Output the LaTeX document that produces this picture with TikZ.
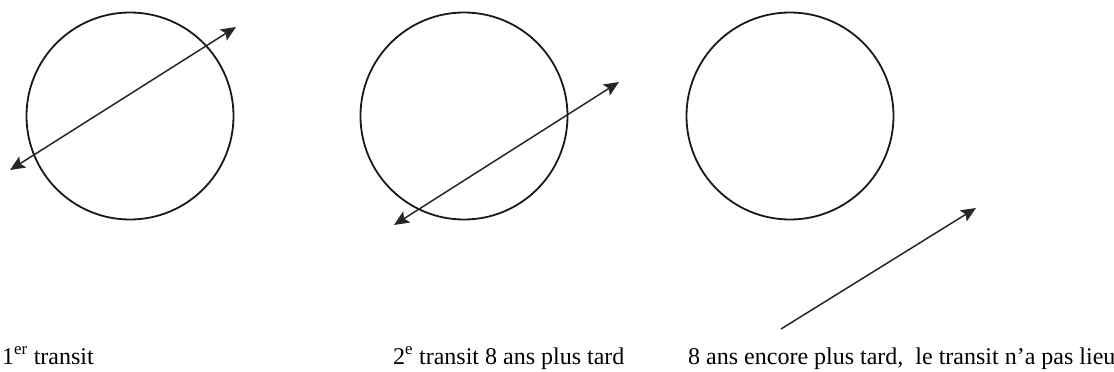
\documentclass[tikz,border=0pt]{standalone}
\usepackage{fontspec}
\setmainfont{Liberation Serif}
\usetikzlibrary{arrows.meta}
\begin{document}
\begin{tikzpicture}[x=1pt,y=-1pt,
  orbit/.style={circle,draw=black!90,line width=1.8pt,minimum size=207pt,inner sep=0pt},
  ray/.style={draw=black!85,line width=1.5pt,-{Stealth[length=15pt,width=13pt,inset=3pt]}},
  fletched/.style={ray,{Stealth[length=15pt,width=13pt,inset=3pt]}-{Stealth[length=15pt,width=13pt,inset=3pt]}},
  caption/.style={anchor=base west,inner sep=0pt,font=\fontsize{24pt}{27pt}\selectfont}]
\useasboundingbox (0,0) rectangle (1114,372);
% circles
\node[orbit] (c1) at (130,116) {};
\node[orbit] (c2) at (464,116) {};
\node[orbit] (c3) at (790,116) {};
% arrow end points
\coordinate (t1) at (10,170);
\coordinate (h1) at (236,27);
\coordinate (t2) at (394,225);
\coordinate (h2) at (619,82);
\coordinate (t3) at (781,329);
\coordinate (h3) at (976,208);
\draw[fletched] (t1) -- (h1);
\draw[fletched] (t2) -- (h2);
\draw[ray] (t3) -- (h3);
% captions
\node[caption] (l1) at (2,364) {1\textsuperscript{er} transit};
\node[caption] (l2) at (393,364) {2\textsuperscript{e} transit 8 ans plus tard};
\node[caption] (l3) at (688,364) {8 ans encore plus tard,\ \ le transit n’a pas lieu};
\end{tikzpicture}
\end{document}
